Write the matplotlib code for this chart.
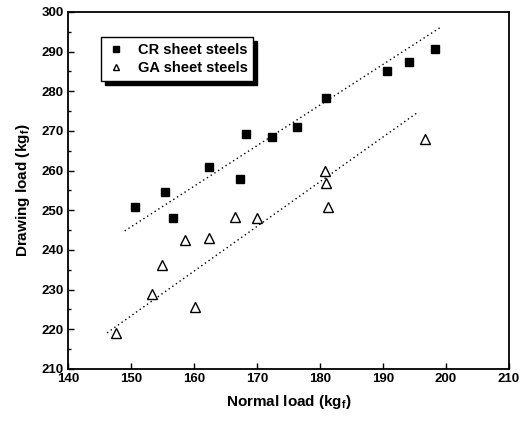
import matplotlib
matplotlib.use("Agg")
import matplotlib.pyplot as plt
from matplotlib.ticker import MultipleLocator

plt.rcParams['font.family'] = ['Liberation Sans', 'DejaVu Sans']
plt.rcParams['font.weight'] = 'bold'
plt.rcParams['mathtext.fontset'] = 'custom'
plt.rcParams['mathtext.rm'] = 'Liberation Sans:bold'
plt.rcParams['mathtext.bf'] = 'Liberation Sans:bold'

# CR sheet steels (carres pleins)
cr_x = [150.6, 155.4, 156.7, 162.3, 167.3, 168.2, 172.3, 176.4, 181.0, 190.6, 194.2, 198.3]
cr_y = [250.9, 254.5, 248.0, 260.8, 257.8, 269.2, 268.4, 271.1, 278.4, 285.0, 287.4, 290.7]

# GA sheet steels (triangles vides)
ga_x = [147.6, 153.3, 154.9, 158.6, 160.2, 162.3, 166.5, 170.0, 180.8, 181.0, 181.3, 196.7]
ga_y = [219.0, 228.9, 236.1, 242.5, 225.7, 242.9, 248.4, 248.0, 259.9, 256.8, 250.9, 267.9]

# droites de tendance (extremites)
cr_fit_x = [149.0, 199.0]
cr_fit_y = [244.8, 296.0]
ga_fit_x = [146.2, 195.6]
ga_fit_y = [219.1, 274.8]

fig = plt.figure(figsize=(5.26, 4.25), dpi=100)
ax = fig.add_axes([0.1293, 0.1318, 0.8384, 0.84])

ax.plot(cr_fit_x, cr_fit_y, color='k', lw=1, linestyle=(0, (1, 2.2)))
ax.plot(ga_fit_x, ga_fit_y, color='k', lw=1, linestyle=(0, (1, 2.2)))

ax.plot(cr_x, cr_y, linestyle='none', marker='s', ms=6, color='k', label='CR sheet steels')
ax.plot(ga_x, ga_y, linestyle='none', marker='^', ms=6.5, mfc='white', mec='k', mew=1.0,
        label='GA sheet steels')

ax.set_xlim(140, 210)
ax.set_ylim(210, 300)
ax.xaxis.set_major_locator(MultipleLocator(10))
ax.yaxis.set_major_locator(MultipleLocator(10))
ax.yaxis.set_minor_locator(MultipleLocator(5))
ax.tick_params(which='both', direction='in', labelsize=9.5, top=False, right=False)
ax.tick_params(which='major', length=4, width=1, pad=3)
ax.tick_params(which='minor', length=2.5, width=1)
for sp in ax.spines.values():
    sp.set_linewidth(1.3)

ax.set_xlabel('Normal load (kg$_\\mathrm{f}$)', fontsize=11, fontweight='bold', labelpad=6)
ax.set_ylabel('Drawing load (kg$_\\mathrm{f}$)', fontsize=11, fontweight='bold', labelpad=7)

leg = ax.legend(loc='upper left', bbox_to_anchor=(0.075, 0.93), borderaxespad=0,
                fancybox=False, edgecolor='k', framealpha=1,
                shadow={'color': 'k', 'alpha': 1, 'ox': 3, 'oy': -3},
                prop={'size': 10.5, 'weight': 'bold'}, handletextpad=0.9,
                labelspacing=0.3, handlelength=1.2, markerscale=0.7)
leg.get_frame().set_linewidth(1)

fig.savefig("out.png", dpi=100)
